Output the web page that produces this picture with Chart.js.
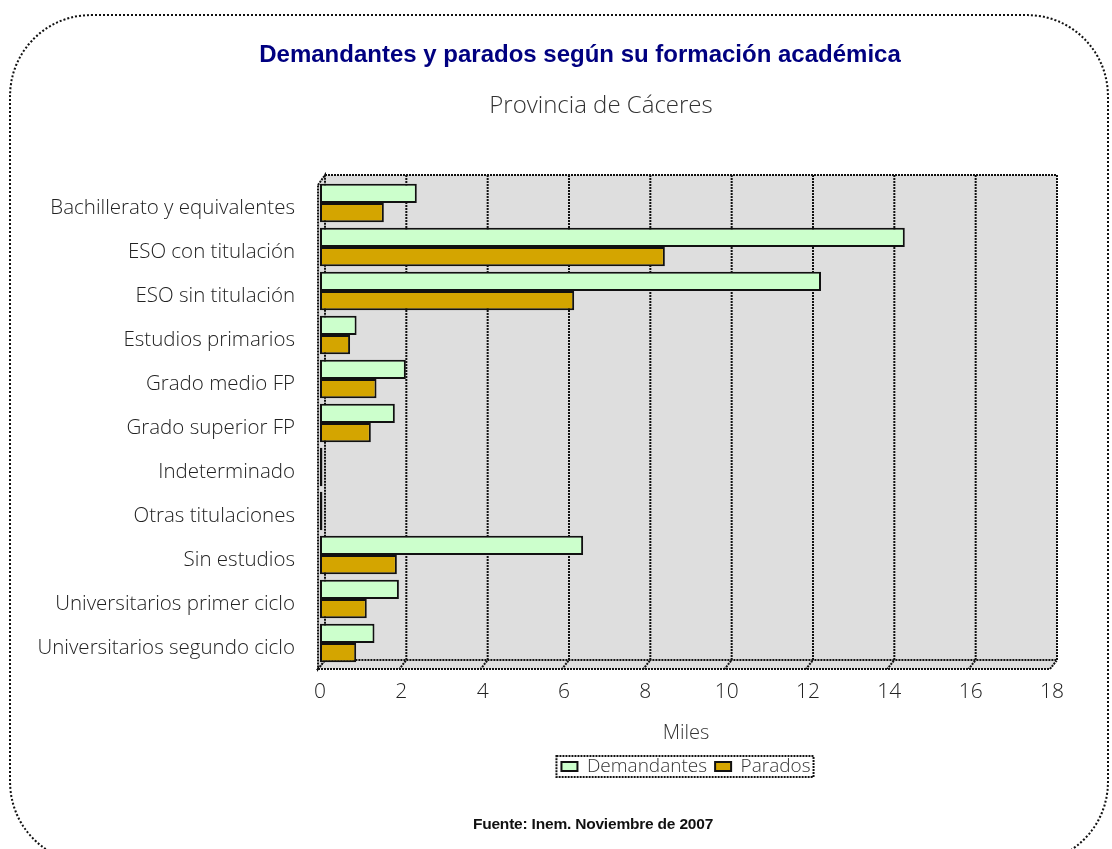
<!DOCTYPE html>
<html>
<head>
    <meta charset="utf-8">
    <title>Demandantes y parados según su formación académica</title>
    <script src="https://cdn.jsdelivr.net/npm/chart.js" type="text/javascript"></script>
    <style>
        body { margin: 0; background: #fff; width: 1112px; height: 849px; overflow: hidden; position: relative; }
        #frame { position: absolute; left: 9px; top: 14px; width: 1100px; height: 850px; box-sizing: border-box;
                 border: 2px dotted #111; border-radius: 82px; }
        .txt { position: absolute; white-space: nowrap; text-align: center; }
        #title { left: 230px; width: 700px; top: 40px; font: bold 24px "Liberation Sans", Arial, sans-serif; color: #000080; }
        #subtitle { left: 401px; width: 400px; top: 87px; font: 300 24px "Open Sans", sans-serif; color: #333; }
        #source { left: 393px; width: 400px; top: 815px; font: bold 15.5px "Liberation Sans Narrow", "Liberation Sans", Arial, sans-serif;
                  letter-spacing: -0.2px; color: #111; }
        #chartBox { position: absolute; left: 0; top: 0; width: 1112px; height: 849px; }
    </style>
    <script type="text/javascript">

        var categories = [
            "Bachillerato y equivalentes",
            "ESO con titulación",
            "ESO sin titulación",
            "Estudios primarios",
            "Grado medio FP",
            "Grado superior FP",
            "Indeterminado",
            "Otras titulaciones",
            "Sin estudios",
            "Universitarios primer ciclo",
            "Universitarios segundo ciclo"
        ];
        // miles de personas
        var demandantes = [2.38, 14.38, 12.32, 0.90, 2.11, 1.84, 0.06, 0.06, 6.47, 1.94, 1.34];
        var parados     = [1.57,  8.48,  6.25, 0.74, 1.39, 1.25, 0.06, 0.06, 1.89, 1.15, 0.89];
        var xMin = 0, xMax = 18, xStep = 2;

        var thinFont = "'Open Sans', 'DejaVu Sans', sans-serif";

        // grey 3D walls + floor behind the bars (Excel style)
        var wallPlugin = {
            id: 'walls',
            beforeDatasetsDraw: function (chart) {
                var ctx = chart.ctx, a = chart.chartArea, x = chart.scales.x;
                var dx = 7, dyT = 10, dyB = 9;
                var fx = function (v) { return x.getPixelForValue(v) - 2; };
                var yT = a.top + 4, yB = a.bottom + 4;
                var x0 = fx(xMin), x1 = fx(xMax);
                ctx.save();
                ctx.fillStyle = '#DEDEDE';
                ctx.strokeStyle = '#111';
                ctx.lineWidth = 2;
                ctx.setLineDash([2, 1]);
                // back wall
                ctx.fillRect(x0 + dx, yT - dyT, x1 - x0, (yB - dyB) - (yT - dyT));
                // floor
                ctx.beginPath();
                ctx.moveTo(x0, yB); ctx.lineTo(x1, yB); ctx.lineTo(x1 + dx, yB - dyB); ctx.lineTo(x0 + dx, yB - dyB); ctx.closePath();
                ctx.fill(); ctx.stroke();
                // left wall
                ctx.beginPath();
                ctx.moveTo(x0, yT); ctx.lineTo(x0 + dx, yT - dyT); ctx.lineTo(x0 + dx, yB - dyB); ctx.lineTo(x0, yB); ctx.closePath();
                ctx.fill(); ctx.stroke();
                // back wall outline
                ctx.beginPath();
                ctx.moveTo(x0 + dx, yT - dyT); ctx.lineTo(x1 + dx, yT - dyT); ctx.lineTo(x1 + dx, yB - dyB);
                ctx.stroke();
                // grid lines
                for (var v = xMin + xStep; v < xMax; v += xStep) {
                    ctx.beginPath();
                    ctx.moveTo(fx(v) + dx, yT - dyT); ctx.lineTo(fx(v) + dx, yB - dyB); ctx.lineTo(fx(v), yB);
                    ctx.stroke();
                }
                ctx.restore();
            }
        };

        // dotted frame round the legend
        var legendBoxPlugin = {
            id: 'legendBox',
            afterDraw: function (chart) {
                var boxes = chart.legend.legendHitBoxes;
                if (!boxes || !boxes.length) return;
                var first = boxes[0], last = boxes[boxes.length - 1];
                var ctx = chart.ctx;
                ctx.save();
                ctx.strokeStyle = '#111';
                ctx.lineWidth = 2;
                ctx.setLineDash([2, 1]);
                ctx.strokeRect(first.left - 5, first.top - 1, last.left + last.width - first.left + 8, first.height + 2);
                ctx.restore();
            }
        };

        window.onload = function () {
            var ctx = document.getElementById('chart').getContext('2d');
            new Chart(ctx, {
                type: 'bar',
                data: {
                    labels: categories,
                    datasets: [{
                        label: 'Demandantes',
                        data: demandantes,
                        backgroundColor: '#CCFFCC',
                        borderColor: '#111',
                        borderWidth: 2,
                        borderSkipped: false
                    }, {
                        label: 'Parados',
                        data: parados,
                        backgroundColor: '#D4A500',
                        borderColor: '#111',
                        borderWidth: 2,
                        borderSkipped: false
                    }]
                },
                options: {
                    indexAxis: 'y',
                    responsive: false,
                    animation: false,
                    categoryPercentage: 0.87,
                    barPercentage: 1.0,
                    layout: { padding: { top: 181, right: 60, bottom: 63, left: 0 } },
                    plugins: {
                        legend: {
                            position: 'bottom',
                            fullSize: false,
                            labels: {
                                boxWidth: 16,
                                boxHeight: 9,
                                padding: 8,
                                color: '#333',
                                font: { family: thinFont, size: 19, weight: 300 }
                            }
                        },
                        tooltip: { enabled: false }
                    },
                    scales: {
                        x: {
                            min: xMin,
                            max: xMax,
                            grid: { display: false },
                            border: { display: false },
                            ticks: {
                                stepSize: xStep,
                                padding: 6,
                                color: '#222',
                                font: { family: thinFont, size: 21, weight: 300 }
                            },
                            title: {
                                display: true,
                                text: 'Miles',
                                color: '#333',
                                font: { family: thinFont, size: 20, weight: 300 }
                            },
                            afterFit: function (s) { s.height = 84; }
                        },
                        y: {
                            grid: { display: false },
                            border: { display: false },
                            ticks: {
                                autoSkip: false,
                                padding: 17,
                                labelOffset: 5,
                                color: '#222',
                                font: { family: thinFont, size: 20.5, weight: 300 }
                            },
                            afterFit: function (s) { s.width = 320; }
                        }
                    }
                },
                plugins: [wallPlugin, legendBoxPlugin]
            });
        };

    </script>
</head>
<body>
    <div id="frame"></div>
    <div id="chartBox"><canvas id="chart" width="1112" height="849"></canvas></div>
    <div class="txt" id="title">Demandantes y parados según su formación académica</div>
    <div class="txt" id="subtitle">Provincia de Cáceres</div>
    <div class="txt" id="source">Fuente: Inem. Noviembre de 2007</div>
</body>
</html>
